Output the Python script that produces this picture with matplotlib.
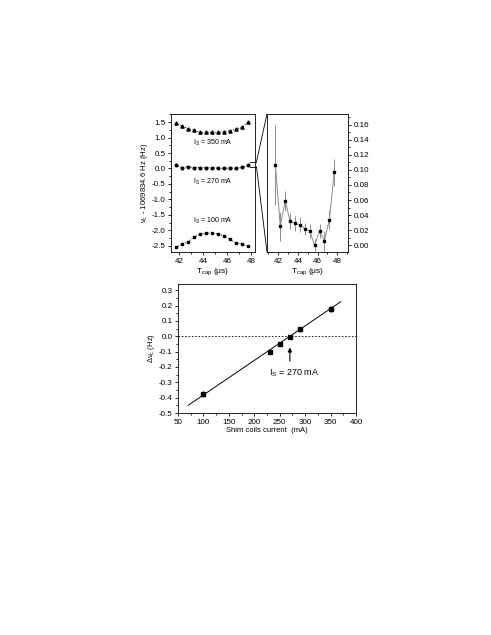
import numpy as np
import matplotlib
matplotlib.use("Agg")
import matplotlib.pyplot as plt
from matplotlib.patches import ConnectionPatch
from matplotlib.ticker import MultipleLocator, FormatStrFormatter

plt.rcParams['font.family'] = ['Liberation Sans', 'DejaVu Sans']
plt.rcParams['font.size'] = 6
plt.rcParams['axes.unicode_minus'] = False
plt.rcParams['mathtext.fontset'] = 'custom'
plt.rcParams['mathtext.rm'] = 'Liberation Sans'
plt.rcParams['mathtext.it'] = 'Liberation Sans:italic'
plt.rcParams['mathtext.default'] = 'regular'
plt.rcParams['axes.linewidth'] = 0.6

# =========================================================
# DATA
# =========================================================

t_cap = [41.7, 42.2, 42.7, 43.2, 43.7, 44.2, 44.7, 45.2, 45.7, 46.2, 46.7, 47.2, 47.7]

nu_350 = [1.47, 1.37, 1.29, 1.24, 1.18, 1.17, 1.17, 1.17, 1.19, 1.22, 1.27, 1.33, 1.49]
nu_270 = [0.107, 0.025, 0.059, 0.032, 0.029, 0.027, 0.022, 0.019, 0.000, 0.019, 0.006, 0.034, 0.097]
nu_100 = [-2.55, -2.45, -2.37, -2.22, -2.13, -2.09, -2.09, -2.11, -2.18, -2.29, -2.40, -2.44, -2.51]
err_270 = [0.053, 0.019, 0.013, 0.011, 0.010, 0.010, 0.008, 0.009, 0.008, 0.009, 0.013, 0.013, 0.018]

shim_current = [100, 230, 250, 270, 290, 350]
delta_nu = [-0.375, -0.100, -0.050, -0.005, 0.045, 0.180]
delta_err = [0.020, 0.010, 0.010, 0.010, 0.015, 0.020]
fit_x = [70, 370]
fit_y = [-0.450, 0.225]

# =========================================================
# FIGURE
# =========================================================

fig = plt.figure(figsize=(4.91, 6.35), dpi=100)
ax1 = fig.add_axes([0.3483, 0.6031, 0.1711, 0.2173])
ax2 = fig.add_axes([0.5438, 0.6031, 0.1650, 0.2173])
ax3 = fig.add_axes([0.3625, 0.3496, 0.3625, 0.2031])

for ax in (ax1, ax2, ax3):
    ax.tick_params(which='both', direction='out', width=0.6, labelsize=5.8, pad=1.5)
    ax.tick_params(which='major', length=2.5)
    ax.tick_params(which='minor', length=1.5)

# ---- left: three currents ----
ax1.plot(t_cap, nu_350, ls=':', color='black', lw=0.7, marker='^', ms=2.3)
ax1.plot(t_cap, nu_270, ls=':', color='black', lw=0.7, marker='o', ms=1.9)
ax1.plot(t_cap, nu_100, ls=':', color='black', lw=0.7, marker='s', ms=1.9)
ax1.text(44.8, 0.82, '$I_S$ = 350 mA', ha='center', va='center', fontsize=5)
ax1.text(44.8, -0.43, '$I_S$ = 270 mA', ha='center', va='center', fontsize=5)
ax1.text(44.8, -1.68, '$I_S$ = 100 mA', ha='center', va='center', fontsize=5)
ax1.set_xlim(41.3, 48.3)
ax1.set_ylim(-2.7, 1.76)
ax1.xaxis.set_major_locator(MultipleLocator(2))
ax1.xaxis.set_minor_locator(MultipleLocator(1))
ax1.yaxis.set_major_locator(MultipleLocator(0.5))
ax1.yaxis.set_minor_locator(MultipleLocator(0.25))
ax1.yaxis.set_major_formatter(FormatStrFormatter('%.1f'))
ax1.set_xlabel(r'$T_{cap}$ ($\mu$s)', fontsize=6, labelpad=1)
ax1.set_ylabel(r'$\nu_c$ - 1069834.6 Hz (Hz)', fontsize=5.6, labelpad=1)

# ---- right: zoom on 270 mA ----
ax2.errorbar(t_cap, nu_270, yerr=err_270, color='0.55', lw=0.7, elinewidth=0.7,
             capsize=0, marker='s', ms=2.0, mfc='black', mec='black')
ax2.set_xlim(40.85, 49.1)
ax2.set_ylim(-0.009, 0.174)
ax2.xaxis.set_major_locator(MultipleLocator(2))
ax2.xaxis.set_minor_locator(MultipleLocator(1))
ax2.yaxis.set_major_locator(MultipleLocator(0.02))
ax2.yaxis.set_minor_locator(MultipleLocator(0.01))
ax2.yaxis.set_major_formatter(FormatStrFormatter('%.2f'))
ax2.yaxis.tick_right()
ax2.yaxis.set_ticks_position('right')
ax2.set_xlabel(r'$T_{cap}$ ($\mu$s)', fontsize=6, labelpad=1)

# ---- zoom connectors ----
for yv, corner in ((0.22, (0, 1)), (0.06, (0, 0))):
    ax1.plot([47.85, 48.42], [yv, yv], color='black', lw=0.6, clip_on=False)
    con = ConnectionPatch(xyA=(48.42, yv), coordsA=ax1.transData,
                          xyB=corner, coordsB=ax2.transAxes,
                          color='black', lw=0.6)
    fig.add_artist(con)

# ---- bottom: shift vs shim current ----
ax3.plot(fit_x, fit_y, color='black', lw=0.7)
ax3.axhline(0, color='black', lw=0.6, ls=(0, (2, 2)))
ax3.errorbar(shim_current, delta_nu, yerr=delta_err, fmt='s', color='black',
             ms=2.2, elinewidth=0.7, capsize=0)
ax3.annotate('', xy=(270, -0.055), xytext=(270, -0.18),
             arrowprops=dict(arrowstyle='-|>', color='black', lw=0.8,
                             mutation_scale=6))
ax3.text(279, -0.24, '$I_S$ = 270 mA', ha='center', va='center', fontsize=6.5)
ax3.set_xlim(50, 400)
ax3.set_ylim(-0.5, 0.34)
ax3.xaxis.set_major_locator(MultipleLocator(50))
ax3.xaxis.set_minor_locator(MultipleLocator(25))
ax3.yaxis.set_major_locator(MultipleLocator(0.1))
ax3.yaxis.set_minor_locator(MultipleLocator(0.05))
ax3.yaxis.set_major_formatter(FormatStrFormatter('%.1f'))
ax3.set_xlabel('Shim coils current  (mA)', fontsize=5.5, labelpad=1)
ax3.set_ylabel(r'$\Delta\nu_c$ (Hz)', fontsize=5.5, labelpad=1)

fig.savefig('out.png', dpi=100)
